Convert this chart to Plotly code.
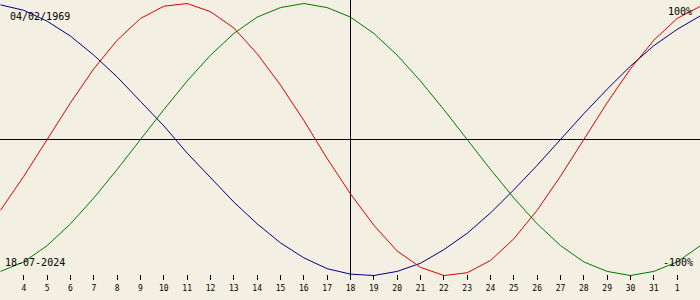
import plotly.graph_objects as go

# day offsets relative to 18-07-2024 (Jul 3 .. Aug 2)
day_offset = list(range(-15, 16))
# biorhythm values in percent, read per day
physical = [-52, -27, 0, 27, 52, 73, 89, 98, 100, 94, 82, 63, 40, 14, -14, -40,
            -63, -82, -94, -100, -98, -89, -73, -52, -27, 0, 27, 52, 73, 89, 98]
emotional = [-97, -90, -78, -62, -43, -22, 0, 22, 43, 62, 78, 90, 97, 100, 97, 90,
             78, 62, 43, 22, 0, -22, -43, -62, -78, -90, -97, -100, -97, -90, -78]
intellectual = [99, 95, 87, 76, 62, 46, 28, 10, -10, -28, -46, -62, -76, -87, -95, -99,
                -100, -97, -91, -81, -69, -54, -37, -19, 0, 19, 37, 54, 69, 81, 91]

tick_offsets = list(range(-14, 15))
tick_labels = ["4", "5", "6", "7", "8", "9", "10", "11", "12", "13", "14", "15", "16",
               "17", "18", "19", "20", "21", "22", "23", "24", "25", "26", "27", "28",
               "29", "30", "31", "1"]

birth_label = "04/02/1969"
date_label = "18-07-2024"
top_label = "100%"
bottom_label = "-100%"

BG = "#F3EFE3"
X_RANGE = [-15.0214, 14.9786]
Y_TOP = 102.57
Y_BOT = -103.31

fig = go.Figure()
fig.add_trace(go.Scatter(x=day_offset, y=intellectual, mode="lines",
                         line=dict(color="#000080", width=1), hoverinfo="skip"))
fig.add_trace(go.Scatter(x=day_offset, y=physical, mode="lines",
                         line=dict(color="#E00000", width=1), hoverinfo="skip"))
fig.add_trace(go.Scatter(x=day_offset, y=emotional, mode="lines",
                         line=dict(color="#007A00", width=1), hoverinfo="skip"))

fig.add_shape(type="line", xref="paper", yref="y", x0=0, x1=1, y0=0, y1=0,
              line=dict(color="black", width=1), layer="below")
fig.add_shape(type="line", xref="x", yref="y", x0=0, x1=0, y0=-100, y1=Y_TOP,
              line=dict(color="black", width=1), layer="below")

font_main = dict(family="DejaVu Sans Mono", size=10, color="black")
fig.add_annotation(text=birth_label, xref="paper", yref="paper", x=0.012, y=1 - 16 / 280,
                   xanchor="left", yanchor="middle", showarrow=False, font=font_main)
fig.add_annotation(text=top_label, xref="paper", yref="paper", x=0.992, y=1 - 12 / 280,
                   xanchor="right", yanchor="middle", showarrow=False, font=font_main)
fig.add_annotation(text=date_label, xref="paper", yref="paper", x=0.004, y=1 - 262 / 280,
                   xanchor="left", yanchor="middle", showarrow=False, font=font_main)
fig.add_annotation(text=bottom_label, xref="paper", yref="paper", x=0.993, y=1 - 262 / 280,
                   xanchor="right", yanchor="middle", showarrow=False, font=font_main)

fig.update_layout(
    width=700, height=300,
    margin=dict(l=0, r=0, t=0, b=20),
    paper_bgcolor=BG, plot_bgcolor=BG,
    showlegend=False,
    xaxis=dict(range=X_RANGE, showgrid=False, zeroline=False, showline=False,
               tickmode="array", tickvals=tick_offsets, ticktext=tick_labels,
               ticks="inside", ticklen=5, tickwidth=1, tickcolor="black",
               ticklabelstandoff=2,
               tickfont=dict(family="DejaVu Sans Mono", size=8, color="black"),
               fixedrange=True),
    yaxis=dict(range=[Y_BOT, Y_TOP], showgrid=False, zeroline=False, showline=False,
               showticklabels=False, ticks="", fixedrange=True),
)

fig.write_html("out.html", config={"displayModeBar": False})
